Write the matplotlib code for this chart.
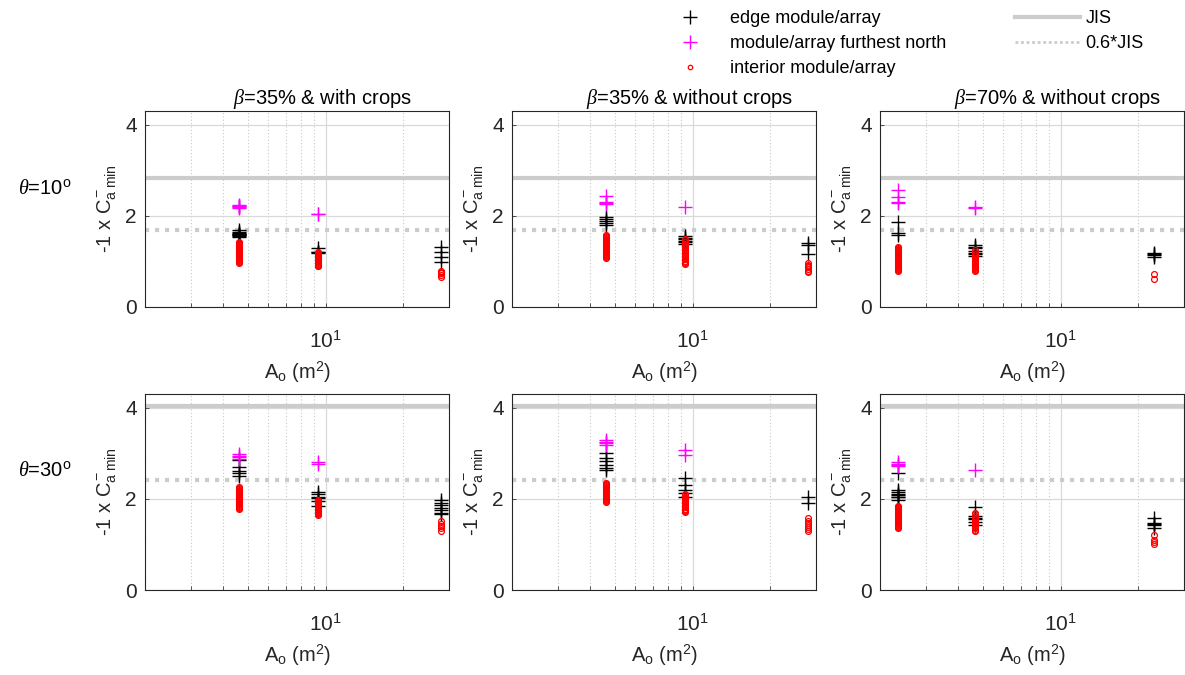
import matplotlib
matplotlib.use("Agg")
import matplotlib.pyplot as plt
from matplotlib.lines import Line2D
from matplotlib.ticker import NullFormatter, FixedLocator

plt.rcParams['font.family'] = ['Liberation Sans', 'DejaVu Sans']
plt.rcParams['mathtext.fontset'] = 'custom'
plt.rcParams['mathtext.rm'] = 'Liberation Sans'
plt.rcParams['mathtext.it'] = 'Liberation Serif:italic'
plt.rcParams['mathtext.bf'] = 'Liberation Sans:bold'

# ---------------- data ----------------
col_titles = [r'$\beta$=35% & with crops', r'$\beta$=35% & without crops', r'$\beta$=70% & without crops']
row_labels = [r'$\theta$=10$^{\rm o}$', r'$\theta$=30$^{\rm o}$']

A_b35 = [4.6, 9.3, 28.0]     # A_o (m^2) for beta = 35 %
A_b70 = [2.34, 4.67, 23.0]   # A_o (m^2) for beta = 70 %

JIS_t10 = 2.83
JIS_t30 = 4.04

# theta = 10 deg, beta = 35 % with crops
north_t10_b35c = [[2.24, 2.22, 2.21, 2.20, 2.18], [2.05, 2.04], []]
edge_t10_b35c = [[1.70, 1.64, 1.62, 1.61, 1.60, 1.59, 1.58, 1.56, 1.53], [1.29, 1.21, 1.20, 1.19],
                 [1.32, 1.21, 1.10, 0.99]]
int_t10_b35c = [[1.43, 1.41, 1.39, 1.37, 1.35, 1.33, 1.31, 1.29, 1.27, 1.25, 1.23, 1.21, 1.19, 1.17,
                 1.15, 1.13, 1.11, 1.09, 1.07, 1.05, 1.03, 1.01, 0.99, 0.97],
                [1.21, 1.19, 1.17, 1.15, 1.13, 1.11, 1.09, 1.07, 1.05, 1.03, 1.01, 0.99, 0.97, 0.95,
                 0.93, 0.91, 0.89],
                [0.80, 0.77, 0.74, 0.70, 0.66]]

# theta = 10 deg, beta = 35 % without crops
north_t10_b35 = [[2.44, 2.30, 2.28, 2.26], [2.19], []]
edge_t10_b35 = [[1.97, 1.93, 1.88, 1.84, 1.80], [1.56, 1.52, 1.49, 1.45, 1.42, 1.38],
                [1.40, 1.37, 1.17]]
int_t10_b35 = [[1.57, 1.55, 1.53, 1.51, 1.49, 1.47, 1.45, 1.43, 1.41, 1.39, 1.37, 1.35, 1.33, 1.31,
                1.29, 1.27, 1.25, 1.23, 1.21, 1.19, 1.17, 1.15, 1.13, 1.11, 1.09, 1.07],
               [1.50, 1.46, 1.42, 1.38, 1.35, 1.32, 1.29, 1.26, 1.23, 1.20, 1.17, 1.14, 1.11, 1.08,
                1.05, 1.02, 0.99, 0.96, 0.94],
               [0.97, 0.93, 0.90, 0.87, 0.84, 0.80, 0.77]]

# theta = 10 deg, beta = 70 % without crops
north_t10_b70 = [[2.57, 2.42, 2.31, 2.28], [2.20, 2.17], []]
edge_t10_b70 = [[1.87, 1.62, 1.58], [1.36, 1.31, 1.29, 1.22, 1.19, 1.17, 1.12], [1.18, 1.16, 1.14, 1.10]]
int_t10_b70 = [[1.32, 1.30, 1.28, 1.26, 1.24, 1.22, 1.20, 1.18, 1.16, 1.14, 1.12, 1.10, 1.08, 1.06,
                1.04, 1.02, 1.00, 0.98, 0.96, 0.94, 0.92, 0.90, 0.88, 0.86, 0.84, 0.82, 0.80],
               [1.25, 1.20, 1.16, 1.12, 1.08, 1.05, 1.02, 0.99, 0.96, 0.93, 0.91, 0.89, 0.87, 0.85,
                0.83, 0.81, 0.79],
               [0.72, 0.62]]

# theta = 30 deg, beta = 35 % with crops
north_t30_b35c = [[2.98, 2.93, 2.91, 2.88], [2.80, 2.77], []]
edge_t30_b35c = [[2.86, 2.70, 2.62, 2.56, 2.50], [2.15, 2.10, 2.05, 2.01, 1.96, 1.85],
                 [1.97, 1.91, 1.86, 1.80, 1.75, 1.70, 1.66]]
int_t30_b35c = [[2.26, 2.24, 2.22, 2.20, 2.18, 2.16, 2.14, 2.12, 2.10, 2.08, 2.06, 2.04, 2.02, 2.00,
                 1.98, 1.96, 1.94, 1.92, 1.90, 1.88, 1.86, 1.84, 1.82, 1.80, 1.78],
                [1.98, 1.96, 1.94, 1.92, 1.90, 1.88, 1.86, 1.84, 1.82, 1.80, 1.78, 1.76, 1.74, 1.72,
                 1.70, 1.68, 1.66, 1.64],
                [1.52, 1.45, 1.40, 1.35, 1.30]]

# theta = 30 deg, beta = 35 % without crops
north_t30_b35 = [[3.28, 3.24, 3.22, 3.18], [3.07, 2.96], []]
edge_t30_b35 = [[3.00, 2.90, 2.82, 2.75, 2.68, 2.63], [2.45, 2.30, 2.20, 2.12, 2.05],
                [2.05, 1.91]]
int_t30_b35 = [[2.34, 2.32, 2.30, 2.28, 2.26, 2.24, 2.22, 2.20, 2.18, 2.16, 2.14, 2.12, 2.10, 2.08,
                2.06, 2.04, 2.02, 2.00, 1.98, 1.96, 1.94],
               [2.11, 2.08, 2.05, 2.02, 1.99, 1.96, 1.93, 1.90, 1.87, 1.84, 1.81, 1.78, 1.76, 1.74,
                1.72],
               [1.58, 1.52, 1.47, 1.42, 1.38, 1.34, 1.30]]

# theta = 30 deg, beta = 70 % without crops
north_t30_b70 = [[2.80, 2.77, 2.75, 2.72], [2.64], []]
edge_t30_b70 = [[2.57, 2.20, 2.14, 2.11, 2.08, 2.05, 2.03, 1.98], [1.83, 1.62, 1.58, 1.55, 1.50, 1.43],
                [1.58, 1.48, 1.45, 1.42, 1.37]]
int_t30_b70 = [[1.85, 1.83, 1.81, 1.79, 1.77, 1.75, 1.73, 1.71, 1.69, 1.67, 1.65, 1.63, 1.61, 1.59,
                1.57, 1.55, 1.53, 1.51, 1.49, 1.47, 1.45, 1.43, 1.41, 1.39, 1.37],
               [1.70, 1.66, 1.62, 1.59, 1.56, 1.53, 1.50, 1.47, 1.44, 1.41, 1.38, 1.35, 1.32, 1.30],
               [1.20, 1.10, 1.05, 1.00]]

panels = [
    [(A_b35, edge_t10_b35c, north_t10_b35c, int_t10_b35c, JIS_t10),
     (A_b35, edge_t10_b35, north_t10_b35, int_t10_b35, JIS_t10),
     (A_b70, edge_t10_b70, north_t10_b70, int_t10_b70, JIS_t10)],
    [(A_b35, edge_t30_b35c, north_t30_b35c, int_t30_b35c, JIS_t30),
     (A_b35, edge_t30_b35, north_t30_b35, int_t30_b35, JIS_t30),
     (A_b70, edge_t30_b70, north_t30_b70, int_t30_b70, JIS_t30)],
]

# ---------------- figure ----------------
W, H = 1185, 675
fig = plt.figure(figsize=(W / 100, H / 100), dpi=100)

col_left = [145, 512, 880]
ax_w = 304
row_top = [111, 394]
ax_h = 196

grid_col = '#d9d9d9'
jis_col = '#cccccc'
FS_TICK = 15
FS_LAB = 14.5
MS_PLUS = 10
MS_O = 4.2

for r in range(2):
    for c in range(3):
        A, edge, north, inter, jis = panels[r][c]
        ax = fig.add_axes([col_left[c] / W, 1 - (row_top[r] + ax_h) / H, ax_w / W, ax_h / H])
        ax.set_xscale('log')
        ax.set_xlim(2, 30)
        ax.set_ylim(0, 4.3)
        ax.set_yticks([0, 2, 4])
        ax.xaxis.set_major_locator(FixedLocator([10]))
        ax.set_xticklabels([r'$10^1$'])
        ax.xaxis.set_minor_locator(FixedLocator([2, 3, 4, 5, 6, 7, 8, 9, 20, 30]))
        ax.xaxis.set_minor_formatter(NullFormatter())
        ax.grid(True, which='major', color=grid_col, lw=0.9, ls='-')
        ax.grid(True, which='minor', axis='x', color='#c8c8c8', lw=0.8, ls=(0, (1, 2)))
        ax.set_axisbelow(True)
        ax.tick_params(which='both', direction='in', length=3, width=0.6, color='#333333',
                       labelsize=FS_TICK, labelcolor='#262626', top=False, right=False)
        ax.tick_params(axis='x', which='major', pad=17)
        ax.tick_params(axis='y', which='major', pad=6)
        for s in ax.spines.values():
            s.set_color('#262626')
            s.set_linewidth(0.8)

        ax.axhline(jis, color=jis_col, lw=3.0, zorder=1.5)
        ax.axhline(0.6 * jis, color=jis_col, lw=3.0, ls=(0, (1.0, 1.4)), zorder=1.5)

        for i, a in enumerate(A):
            ax.plot([a] * len(edge[i]), edge[i], ls='none', marker='+', ms=MS_PLUS, mew=1.0, color='black', zorder=3)
            ax.plot([a] * len(north[i]), north[i], ls='none', marker='+', ms=MS_PLUS, mew=1.0, color='#ff00ff', zorder=3)
            ax.plot([a] * len(inter[i]), inter[i], ls='none', marker='o', ms=MS_O, mew=0.9,
                    mfc='none', mec='#ff0000', zorder=4)

        ax.set_xlabel(r'A$_{\rm o}$ (m$^{\rm 2}$)', fontsize=FS_LAB, color='#262626', labelpad=6)
        ax.set_ylabel(r'-1 x C$_{\rm a\ min}^{\rm -}$', fontsize=FS_LAB, color='#262626')
        ax.yaxis.set_label_coords(-0.09, 0.5)
        if r == 0:
            ax.set_title(col_titles[c], fontsize=14.5, x=0.585, pad=3, color='black')
        if c == 0:
            fig.text(45 / W, 1 - (188 if r == 0 else 470) / H, row_labels[r], fontsize=14.5,
                     ha='center', va='center')

# legends
h1 = [Line2D([], [], ls='none', marker='+', ms=MS_PLUS, mew=1.0, color='black'),
      Line2D([], [], ls='none', marker='+', ms=MS_PLUS, mew=1.0, color='#ff00ff'),
      Line2D([], [], ls='none', marker='o', ms=3.2, mew=0.9, mfc='none', mec='#ff0000')]
fig.legend(h1, ['edge module/array', 'module/array furthest north', 'interior module/array'],
           loc='upper left', bbox_to_anchor=(672 / W, 1 - 10 / H), frameon=False, fontsize=13,
           handlelength=2.0, handletextpad=1.2, borderpad=0, borderaxespad=0, labelspacing=0.45)
h2 = [Line2D([], [], color=jis_col, lw=3.0),
      Line2D([], [], color=jis_col, lw=2.0, ls=(0, (1.0, 1.0)))]
fig.legend(h2, ['JIS', '0.6*JIS'], loc='upper left', bbox_to_anchor=(1015 / W, 1 - 10 / H),
           frameon=False, fontsize=13, handlelength=3.6, handletextpad=0.3, borderpad=0,
           borderaxespad=0, labelspacing=0.45)

fig.savefig('out.png', dpi=100)
